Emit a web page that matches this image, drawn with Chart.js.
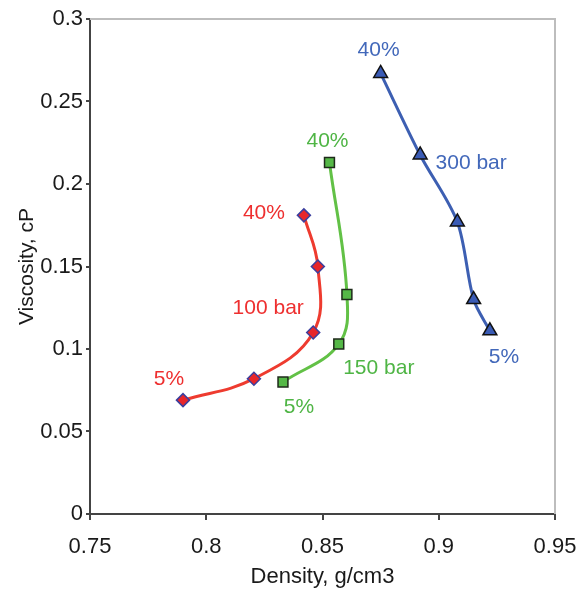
<!DOCTYPE html>
<html>
<head>
<meta charset="utf-8">
<script src="https://cdn.jsdelivr.net/npm/chart.js@4"></script>
<style>
  html, body { margin: 0; padding: 0; background: #fff; }
  #wrap { width: 588px; height: 591px; }
</style>
</head>
<body>
<div id="wrap"><canvas id="chart" width="588" height="591"></canvas></div>
<script>
// density (g/cm3) and viscosity (cP), 5% -> 40%
const density100 = [0.790, 0.8205, 0.846, 0.848, 0.842];
const viscosity100 = [0.069, 0.082, 0.110, 0.150, 0.181];
const density150 = [0.833, 0.857, 0.8605, 0.853];
const viscosity150 = [0.080, 0.103, 0.133, 0.213];
const density300 = [0.922, 0.915, 0.908, 0.892, 0.875];
const viscosity300 = [0.111, 0.130, 0.177, 0.2176, 0.267];

const xTicks = [0.75, 0.8, 0.85, 0.9, 0.95];
const yTicks = [0, 0.05, 0.1, 0.15, 0.2, 0.25, 0.3];

const FONT = 'Liberation Sans, Arial, sans-serif';

function toPoints(xs, ys) {
  return xs.map((x, i) => ({ x: x, y: ys[i] }));
}

// text labels, anchored to a point of a dataset
const notes = [
  { ds: 0, idx: 4, text: '40%', dx: -40, dy: -2 },
  { ds: 0, idx: 0, text: '5%', dx: -14, dy: -21 },
  { ds: 0, idx: 2, text: '100 bar', dx: -45, dy: -24 },
  { ds: 1, idx: 3, text: '40%', dx: -2, dy: -21 },
  { ds: 1, idx: 0, text: '5%', dx: 16, dy: 25 },
  { ds: 1, idx: 1, text: '150 bar', dx: 40, dy: 24 },
  { ds: 2, idx: 4, text: '40%', dx: -2, dy: -23 },
  { ds: 2, idx: 3, text: '300 bar', dx: 51, dy: 8 },
  { ds: 2, idx: 0, text: '5%', dx: 14, dy: 26 }
];

const notePlugin = {
  id: 'notes',
  afterDatasetsDraw(chart) {
    const ctx = chart.ctx;
    const xs = chart.scales.x, ys = chart.scales.y;
    ctx.save();
    ctx.font = '21px ' + FONT;
    ctx.textAlign = 'center';
    ctx.textBaseline = 'middle';
    notes.forEach(n => {
      const ds = chart.data.datasets[n.ds];
      const p = ds.data[n.idx];
      ctx.fillStyle = ds.labelColor;
      ctx.fillText(n.text, xs.getPixelForValue(p.x) + n.dx, ys.getPixelForValue(p.y) + n.dy);
    });
    ctx.restore();
  }
};

// light frame on top and right
const framePlugin = {
  id: 'frame',
  beforeDatasetsDraw(chart) {
    const a = chart.chartArea, ctx = chart.ctx;
    ctx.save();
    ctx.strokeStyle = '#bdbdbd';
    ctx.lineWidth = 2;
    ctx.beginPath();
    ctx.moveTo(a.left, a.top);
    ctx.lineTo(a.right, a.top);
    ctx.lineTo(a.right, a.bottom);
    ctx.stroke();
    ctx.restore();
  }
};

new Chart(document.getElementById('chart'), {
  type: 'scatter',
  data: {
    datasets: [
      {
        label: '100 bar',
        data: toPoints(density100, viscosity100),
        showLine: true,
        tension: 0.4,
        borderColor: '#ee3b2f',
        borderWidth: 3,
        pointStyle: 'rectRot',
        pointRadius: 6.5,
        pointBackgroundColor: '#e8262a',
        pointBorderColor: '#3b3f9e',
        pointBorderWidth: 1.5,
        labelColor: '#ee2f2f'
      },
      {
        label: '150 bar',
        data: toPoints(density150, viscosity150),
        showLine: true,
        tension: 0.4,
        borderColor: '#62c146',
        borderWidth: 3,
        pointStyle: 'rect',
        pointRadius: 7,
        pointBackgroundColor: '#55b847',
        pointBorderColor: '#1e2a1a',
        pointBorderWidth: 1.5,
        labelColor: '#4fb545'
      },
      {
        label: '300 bar',
        data: toPoints(density300, viscosity300),
        showLine: true,
        tension: 0.3,
        borderColor: '#3d5fb2',
        borderWidth: 3,
        pointStyle: 'triangle',
        pointRadius: 8,
        pointBackgroundColor: '#3a5bb5',
        pointBorderColor: '#111',
        pointBorderWidth: 1.5,
        labelColor: '#4268ba'
      }
    ]
  },
  options: {
    responsive: false,
    animation: false,
    layout: { padding: { top: 19, right: 33, left: 0, bottom: 0 } },
    plugins: { legend: { display: false }, tooltip: { enabled: false } },
    scales: {
      x: {
        type: 'linear',
        min: 0.75, max: 0.95,
        afterBuildTicks: s => { s.ticks = xTicks.map(v => ({ value: v })); },
        afterFit: s => { s.height = 77; s.paddingRight = 0; s.paddingLeft = 0; },
        grid: { drawOnChartArea: false, drawTicks: true, tickLength: 6, color: '#444', lineWidth: 2 },
        border: { color: '#444', width: 2 },
        ticks: {
          color: '#1a1a1a', padding: 14,
          font: { family: FONT, size: 22 },
          callback: v => String(+v.toFixed(2))
        },
        title: {
          display: true, text: 'Density, g/cm3', color: '#1a1a1a',
          font: { family: FONT, size: 22 }, padding: { top: 0, bottom: 1 }
        }
      },
      y: {
        type: 'linear',
        min: 0, max: 0.3,
        afterBuildTicks: s => { s.ticks = yTicks.map(v => ({ value: v })); },
        afterFit: s => { s.width = 90; },
        grid: { drawOnChartArea: false, drawTicks: true, tickLength: 4, color: '#444', lineWidth: 2 },
        border: { color: '#444', width: 2 },
        ticks: {
          color: '#1a1a1a', padding: 3,
          font: { family: FONT, size: 22 },
          callback: v => String(+v.toFixed(2))
        },
        title: {
          display: true, text: 'Viscosity, cP', color: '#1a1a1a',
          font: { family: FONT, size: 21 }, padding: { top: 15, bottom: 0 }
        }
      }
    }
  },
  plugins: [framePlugin, notePlugin]
});
</script>
</body>
</html>
